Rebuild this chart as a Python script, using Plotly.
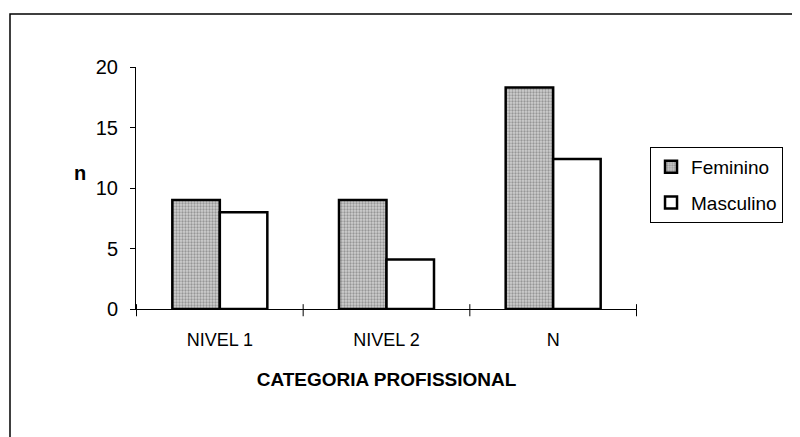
import plotly.graph_objects as go

categorias = ["NIVEL 1", "NIVEL 2", "N"]
feminino = [9, 9, 18.3]
masculino = [8, 4.1, 12.4]

fig = go.Figure()
fig.add_trace(go.Bar(x=categorias, y=feminino, name="Feminino", legendgroup="f",
                     marker=dict(color="#c4c4c4", line=dict(color="black", width=2.5),
                                 pattern=dict(shape=".", fgcolor="#5e5e5e", bgcolor="#cfcfcf",
                                              size=3, solidity=0.45))))
fig.add_trace(go.Bar(x=categorias, y=masculino, name="Masculino", legendgroup="m",
                     marker=dict(color="white", line=dict(color="black", width=2.5))))

# moldura externa do gráfico
fig.add_shape(type="rect", xref="paper", yref="paper", x0=-0.2515, x1=1.4, y0=-0.6, y1=1.219,
              line=dict(color="black", width=1.5), fillcolor="rgba(0,0,0,0)", layer="below")

# marcas de divisão entre categorias no eixo x
for xv in [-0.5, 0.5, 1.5, 2.5]:
    fig.add_shape(type="line", xref="x", yref="paper", x0=xv, x1=xv, y0=-0.03, y1=0.02,
                  line=dict(color="black", width=1))

fig.add_annotation(text="<b>n</b>", xref="paper", yref="paper", x=-0.128, y=0.562,
                   showarrow=False, font=dict(size=20))

# a página tem 8px de margem no body, por isso 792x429
fig.update_layout(
    width=792, height=429,
    margin=dict(l=128, r=163, t=59, b=128),
    plot_bgcolor="white", paper_bgcolor="white",
    font=dict(family="Liberation Sans, Arial", size=18, color="black"),
    barmode="group", bargap=0.43, bargroupgap=0,
    showlegend=True,
    legend=dict(x=1.026, y=0.67, xanchor="left", yanchor="top",
                bordercolor="black", borderwidth=1, bgcolor="white",
                font=dict(size=19), tracegroupgap=8),
    xaxis=dict(showline=True, linecolor="black", linewidth=1, ticks="",
               ticklabelstandoff=14,
               title=dict(text="<b>CATEGORIA PROFISSIONAL</b>", font=dict(size=19), standoff=24)),
    yaxis=dict(range=[0, 20], dtick=5, showline=True, linecolor="black", linewidth=1,
               ticks="outside", ticklen=5, tickcolor="black", showgrid=False, zeroline=False,
               tickfont=dict(size=20), ticklabelstandoff=8),
)

fig.write_html("out.html")
